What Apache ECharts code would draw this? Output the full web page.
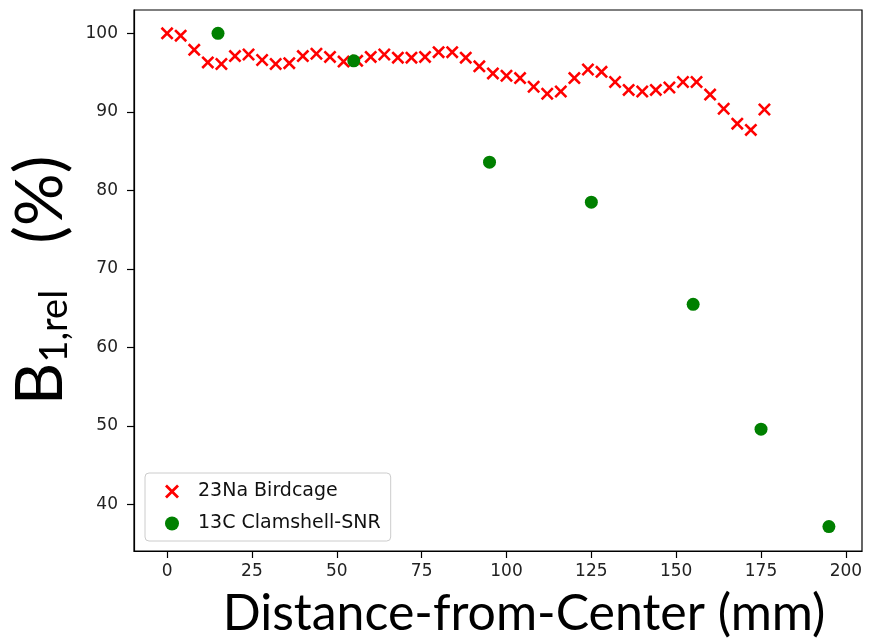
<!DOCTYPE html>
<html>
<head>
<meta charset="utf-8">
<script src="https://cdn.jsdelivr.net/npm/echarts@6/dist/echarts.min.js"></script>
<style>html,body{margin:0;padding:0;background:#fff}#c{width:875px;height:644px}</style>
</head>
<body>
<div id="c"></div>
<script>
const xTicks = [0, 25, 50, 75, 100, 125, 150, 175, 200];
const yTicks = [40, 50, 60, 70, 80, 90, 100];
const naDistance = [0, 4, 8, 12, 16, 20, 24, 28, 32, 36, 40, 44, 48, 52, 56, 60, 64, 68, 72, 76, 80, 84, 88, 92, 96, 100, 104, 108, 112, 116, 120, 124, 128, 132, 136, 140, 144, 148, 152, 156, 160, 164, 168, 172, 176];
const naB1 = [100.0, 99.7, 97.9, 96.3, 96.1, 97.1, 97.3, 96.6, 96.1, 96.2, 97.1, 97.4, 97.0, 96.4, 96.5, 97.0, 97.3, 96.9, 96.9, 97.0, 97.6, 97.6, 96.9, 95.8, 94.9, 94.6, 94.3, 93.2, 92.3, 92.6, 94.3, 95.4, 95.1, 93.8, 92.8, 92.6, 92.8, 93.1, 93.8, 93.8, 92.2, 90.4, 88.5, 87.7, 90.3];
const cDistance = [15, 55, 95, 125, 155, 175, 195];
const cB1 = [100.0, 96.5, 83.6, 78.5, 65.5, 49.6, 37.2];
const seriesNames = ['23Na Birdcage', '13C Clamshell-SNR'];

const crossPath = 'path://M0,1.4L1.4,0L5,3.6L8.6,0L10,1.4L6.4,5L10,8.6L8.6,10L5,6.4L1.4,10L0,8.6L3.6,5Z';

const chart = echarts.init(document.getElementById('c'), null, {renderer: 'canvas'});
const tickFont = {fontFamily: 'DejaVu Sans', fontSize: 17, color: '#222'};
chart.setOption({
  animation: false,
  backgroundColor: '#fff',
  grid: {left: 134, right: 13, top: 10, bottom: 93, containLabel: false, outerBoundsMode: 'none', show: true, borderColor: '#000', borderWidth: 1.2, backgroundColor: 'transparent'},
  legend: {
    orient: 'vertical', left: 145, top: 473,
    data: [{name: seriesNames[0], icon: crossPath}, {name: seriesNames[1], icon: 'circle'}],
    itemWidth: 14, itemHeight: 14, itemGap: 13,
    padding: [9, 10, 8, 20],
    backgroundColor: '#fff', borderColor: '#cccccc', borderWidth: 1, borderRadius: 4,
    textStyle: {fontFamily: 'DejaVu Sans', fontSize: 19, color: '#111', padding: [0, 0, 0, 14]}
  },
  xAxis: {
    type: 'value', min: -9.75, max: 204.75,
    axisLine: {show: true, onZero: false, lineStyle: {color: '#000', width: 1.2}},
    axisTick: {show: true, inside: false, length: 7, lineStyle: {color: '#000', width: 1.2}, customValues: xTicks},
    axisLabel: {customValues: xTicks, margin: 12, ...tickFont},
    splitLine: {show: false},
    name: 'Distance-from-Center (mm)', nameLocation: 'middle', nameGap: 38,
    nameTextStyle: {fontFamily: 'Lato', fontSize: 50, color: '#000', padding: [0, 0, 0, 52]}
  },
  yAxis: {
    type: 'value', min: 34.09, max: 102.97,
    axisLine: {show: true, onZero: false, lineStyle: {color: '#000', width: 1.2}},
    axisTick: {show: true, inside: false, length: 7, lineStyle: {color: '#000', width: 1.2}, customValues: yTicks},
    axisLabel: {customValues: yTicks, margin: 16, ...tickFont},
    splitLine: {show: false},
    name: '{b|B}{s|1,rel}{g| }{b|(%)}', nameLocation: 'middle', nameRotate: 90, nameGap: 60,
    nameTextStyle: {
      rich: {
        b: {fontFamily: 'Lato', fontSize: 66, color: '#000', verticalAlign: 'bottom', lineHeight: 70},
        s: {fontFamily: 'Lato', fontSize: 38, color: '#000', verticalAlign: 'bottom', lineHeight: 34},
        g: {fontFamily: 'Lato', fontSize: 66, color: '#000', verticalAlign: 'bottom', lineHeight: 70, width: 46}
      }
    }
  },
  series: [
    {
      name: seriesNames[0], type: 'scatter', symbol: crossPath, symbolSize: 13,
      itemStyle: {color: '#ff0000', opacity: 1},
      data: naDistance.map((d, i) => [d, naB1[i]]), z: 2
    },
    {
      name: seriesNames[1], type: 'scatter', symbol: 'circle', symbolSize: 13,
      itemStyle: {color: '#008000', opacity: 1},
      data: cDistance.map((d, i) => [d, cB1[i]]), z: 3
    }
  ]
});
</script>
</body>
</html>
